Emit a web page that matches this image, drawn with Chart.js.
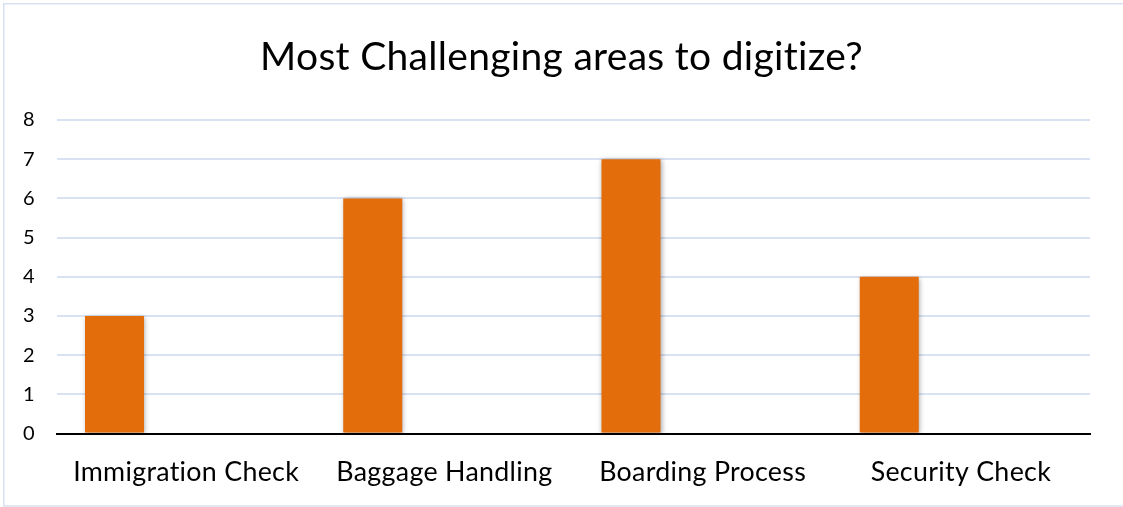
<!DOCTYPE html>
<html>
<head>
<meta charset="utf-8">
<script src="https://cdn.jsdelivr.net/npm/chart.js@4/dist/chart.umd.min.js"></script>
<style>
  html, body { margin: 0; padding: 0; background: #ffffff; }
  #wrap { position: relative; width: 1123px; height: 507px; }
  canvas { display: block; }
</style>
</head>
<body>
<div id="wrap"><canvas id="c" width="1123" height="507"></canvas></div>
<script>
// Survey answers: which area is hardest to digitize
const categories = ['Immigration Check', 'Baggage Handling', 'Boarding Process', 'Security Check'];
const responses = [3, 6, 7, 4];
// Two further series exist in the workbook but carry no values
const seriesB = [null, null, null, null];
const seriesC = [null, null, null, null];
const yTicks = [0, 1, 2, 3, 4, 5, 6, 7, 8];

const chartTitle = 'Most Challenging areas to digitize?';
const FONT = "Lato, 'Open Sans', 'DejaVu Sans', sans-serif";
const ORANGE = '#E36C0B';
const GRID = '#D9E2F2';

// Soft drop shadow under the bars
const barShadow = {
  id: 'barShadow',
  beforeDatasetsDraw(chart) {
    const ctx = chart.ctx;
    ctx.save();
    ctx.shadowColor = 'rgba(0,0,0,0.35)';
    ctx.shadowBlur = 5;
    ctx.shadowOffsetX = 1;
    ctx.shadowOffsetY = 1;
  },
  afterDatasetsDraw(chart) {
    chart.ctx.restore();
  }
};

// White background, thin frame, and a touch of letter spacing (keeps "ti" unligated)
const frame = {
  id: 'frame',
  beforeDraw(chart) {
    const ctx = chart.ctx;
    ctx.letterSpacing = '0.3px';
    ctx.save();
    ctx.fillStyle = '#ffffff';
    ctx.fillRect(0, 0, chart.width, chart.height);
    ctx.strokeStyle = '#D7E1EF';
    ctx.lineWidth = 1.5;
    ctx.beginPath();
    ctx.moveTo(chart.width + 2, 3.75);
    ctx.lineTo(3.75, 3.75);
    ctx.lineTo(3.75, 506);
    ctx.lineTo(chart.width + 2, 506);
    ctx.stroke();
    ctx.restore();
  }
};

new Chart(document.getElementById('c'), {
  type: 'bar',
  data: {
    labels: categories,
    datasets: [
      { label: 'Responses', data: responses, backgroundColor: ORANGE, borderWidth: 0 },
      { label: 'B', data: seriesB, backgroundColor: ORANGE, borderWidth: 0 },
      { label: 'C', data: seriesC, backgroundColor: ORANGE, borderWidth: 0 }
    ]
  },
  options: {
    responsive: false,
    animation: false,
    devicePixelRatio: 1,
    categoryPercentage: 0.832,
    barPercentage: 0.824,
    layout: { padding: 0 },
    plugins: {
      legend: { display: false },
      tooltip: { enabled: false },
      title: {
        display: true,
        text: chartTitle,
        color: '#000000',
        font: { family: FONT, size: 39, weight: 'normal', lineHeight: 1.2 },
        padding: { top: 34, bottom: 39.2 }
      }
    },
    scales: {
      x: {
        grid: { display: false, drawTicks: false },
        border: { display: true, color: '#000000', width: 2 },
        ticks: {
          color: '#000000',
          padding: 23,
          font: { family: FONT, size: 26.8, lineHeight: 1.2 },
          maxRotation: 0,
          autoSkip: false
        },
        afterFit(scale) { scale.height = 73.5; }
      },
      y: {
        min: yTicks[0],
        max: yTicks[yTicks.length - 1],
        afterBuildTicks(scale) { scale.ticks = yTicks.map(v => ({ value: v })); },
        grid: { color: GRID, lineWidth: 2, drawTicks: false },
        border: { display: false },
        ticks: {
          color: '#000000',
          padding: 22,
          font: { family: FONT, size: 20 }
        },
        afterFit(scale) { scale.width = 57; }
      },
      // empty right-hand margin so the plot ends short of the frame
      margin: {
        position: 'right',
        min: yTicks[0],
        max: yTicks[yTicks.length - 1],
        grid: { display: false, drawTicks: false },
        border: { display: false },
        ticks: { display: false },
        afterFit(scale) { scale.width = 33; }
      }
    }
  },
  plugins: [frame, barShadow]
});
</script>
</body>
</html>
